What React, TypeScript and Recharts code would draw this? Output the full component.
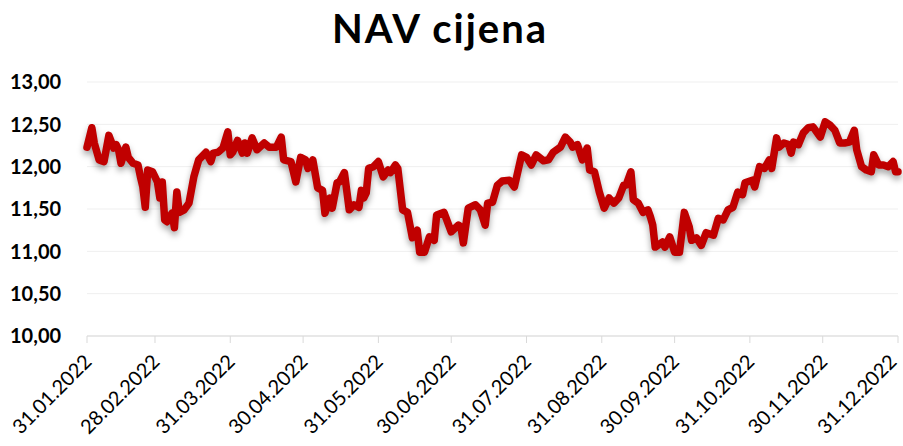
import { LineChart, Line, XAxis, YAxis, CartesianGrid } from 'recharts'

// days counted from 31.01.2022
const dayOffsets = [
  0, 2, 3, 5, 7, 9, 11, 12, 13, 14,
  16, 17, 19, 21, 22, 23, 24, 25, 27, 29,
  30, 31, 32, 33, 35, 36, 37, 38, 40, 42,
  44, 46, 48, 49, 51, 52, 54, 56, 58, 59,
  60, 62, 64, 65, 66, 68, 70, 73, 75, 78,
  80, 81, 84, 86, 88, 90, 91, 93, 95, 97,
  98, 100, 101, 103, 104, 106, 108, 110, 112, 113,
  114, 115, 116, 118, 120, 122, 124, 125, 127, 128,
  130, 132, 133, 134, 136, 137, 139, 141, 143, 144,
  147, 150, 153, 154, 155, 157, 160, 162, 164, 165,
  167, 169, 171, 174, 176, 179, 181, 183, 185, 188,
  190, 192, 195, 197, 199, 200, 202, 204, 206, 207,
  209, 211, 213, 215, 217, 219, 221, 222, 224, 225,
  227, 229, 231, 232, 233, 234, 237, 238, 240, 242,
  244, 246, 248, 249, 251, 253, 255, 258, 260, 262,
  264, 266, 268, 270, 271, 274, 275, 277, 279, 281,
  282, 284, 285, 287, 289, 290, 291, 293, 295, 297,
  299, 302, 304, 306, 308, 310, 312, 314, 316, 317,
  319, 321, 323, 324, 326, 328, 330, 332, 333, 334,
]

const navValues = [
  12.23, 12.46, 12.28, 12.08, 12.06, 12.37, 12.22, 12.26, 12.2, 12.04,
  12.23, 12.11, 12.04, 12.02, 11.88, 11.76, 11.52, 11.96, 11.94, 11.82,
  11.63, 11.82, 11.37, 11.35, 11.45, 11.28, 11.7, 11.46, 11.49, 11.57,
  11.88, 12.08, 12.14, 12.17, 12.06, 12.16, 12.17, 12.22, 12.41, 12.14,
  12.17, 12.31, 12.16, 12.28, 12.16, 12.34, 12.2, 12.28, 12.23, 12.23,
  12.35, 12.08, 12.06, 11.82, 12.11, 12.08, 11.98, 12.08, 11.75, 11.72,
  11.45, 11.63, 11.51, 11.81, 11.82, 11.93, 11.49, 11.55, 11.52, 11.72,
  11.63, 11.69, 11.98, 12.0, 12.06, 11.88, 11.96, 11.93, 12.02, 11.98,
  11.49, 11.46, 11.31, 11.16, 11.25, 10.99, 10.99, 11.17, 11.13, 11.43,
  11.46, 11.23, 11.31, 11.29, 11.1, 11.51, 11.55, 11.49, 11.31, 11.57,
  11.58, 11.78, 11.83, 11.84, 11.76, 12.14, 12.11, 12.02, 12.14, 12.07,
  12.08, 12.17, 12.23, 12.35, 12.29, 12.23, 12.26, 12.08, 12.22, 11.96,
  11.94, 11.7, 11.51, 11.63, 11.57, 11.63, 11.78, 11.78, 11.94, 11.61,
  11.57, 11.46, 11.49, 11.41, 11.31, 11.05, 11.11, 11.05, 11.17, 10.99,
  10.99, 11.46, 11.29, 11.13, 11.16, 11.07, 11.22, 11.19, 11.39, 11.37,
  11.49, 11.52, 11.7, 11.67, 11.81, 11.84, 11.76, 12.0, 11.98, 12.08,
  11.98, 12.34, 12.23, 12.28, 12.26, 12.16, 12.29, 12.26, 12.4, 12.46,
  12.47, 12.35, 12.53, 12.49, 12.43, 12.28, 12.28, 12.29, 12.43, 12.2,
  12.0, 11.96, 11.94, 12.14, 12.02, 12.02, 12.0, 12.06, 11.94, 11.94,
]

const monthEndDays = [0, 28, 59, 89, 120, 150, 181, 212, 242, 273, 303, 334]
const monthEndLabels = [
  '31.01.2022', '28.02.2022', '31.03.2022', '30.04.2022', '31.05.2022', '30.06.2022',
  '31.07.2022', '31.08.2022', '30.09.2022', '31.10.2022', '30.11.2022', '31.12.2022',
]
const yTicks = [10, 10.5, 11, 11.5, 12, 12.5, 13]

const data = dayOffsets.map((d, i) => ({ day: d, nav: navValues[i] }))

const FONT = 'Lato, "Open Sans", sans-serif'

function DateTick({ x, y, payload }: any) {
  const idx = monthEndDays.indexOf(payload.value)
  // keep the last label inside the picture
  const px = Math.min(x + 1, 893)
  const py = y + 13
  return (
    <text
      x={px}
      y={py}
      transform={`rotate(-45 ${px} ${py})`}
      textAnchor="end"
      dy="0.35em"
      fontFamily={FONT}
      fontSize={20}
      fill="#000"
    >
      {monthEndLabels[idx]}
    </text>
  )
}

function ValueTick({ y, payload }: any) {
  return (
    <text x={10} y={y} dy="0.36em" textAnchor="start" fontFamily={FONT} fontSize={20} fontWeight={700} fill="#000">
      {payload.value.toFixed(2).replace('.', ',')}
    </text>
  )
}

export default function App() {
  return (
    <div style={{ position: 'relative', width: 903, height: 446, background: '#fff' }}>
      <style>{`body{margin:0} .nav-line .recharts-line-curve{filter:drop-shadow(0px 4px 3px rgba(0,0,0,0.35))}`}</style>
      <div
        style={{
          position: 'absolute',
          left: 0,
          top: 4,
          width: 880,
          textAlign: 'center',
          fontFamily: FONT,
          fontWeight: 700,
          fontSize: 40,
          letterSpacing: 2,
          color: '#000',
        }}
      >
        NAV cijena
      </div>
      <LineChart width={903} height={446} data={data} margin={{ top: 82, right: 5, bottom: 0, left: 0 }}>
        <CartesianGrid horizontal vertical={false} stroke="#efefef" />
        <XAxis
          dataKey="day"
          type="number"
          domain={[0, 334]}
          ticks={monthEndDays}
          interval={0}
          height={110}
          stroke="#d9d9d9"
          tickSize={7}
          tick={<DateTick />}
        />
        <YAxis
          domain={[10, 13]}
          ticks={yTicks}
          width={87}
          axisLine={false}
          tickLine={false}
          tick={<ValueTick />}
        />
        <Line
          className="nav-line"
          type="linear"
          dataKey="nav"
          stroke="#C00000"
          strokeWidth={7.5}
          strokeLinejoin="round"
          strokeLinecap="round"
          dot={false}
          activeDot={false}
          isAnimationActive={false}
        />
      </LineChart>
    </div>
  )
}
